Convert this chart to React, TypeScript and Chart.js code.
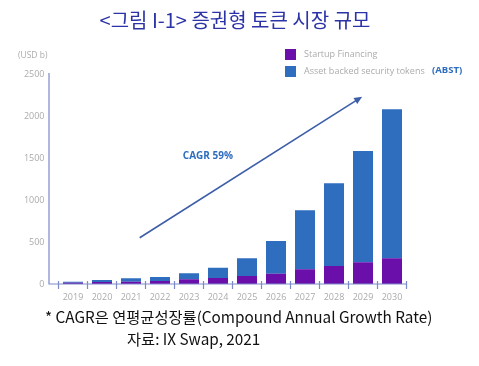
import React, { useEffect, useRef } from "react";
import { Chart, registerables } from "chart.js";

Chart.register(...registerables);

const years = ["2019", "2020", "2021", "2022", "2023", "2024", "2025", "2026", "2027", "2028", "2029", "2030"];
const startupFinancing = [15, 24, 28, 36, 56, 72, 95, 123, 175, 214, 258, 306];
const abst = [12, 24, 40, 47, 71, 122, 211, 389, 702, 985, 1325, 1774];
const yTicks = [0, 500, 1000, 1500, 2000, 2500];
const seriesLabels = ["Startup Financing", "Asset backed security tokens"];
// arrow annotation in data units: [categoryIndex, value]
const arrowStart = [2.3, 550];
const arrowEnd = [9.97, 2230];
const cagrLabel = "CAGR 59%";
const cagrPos = [4.65, 1520];

const PURPLE = "#6b0fab";
const BLUE = "#2f6dbf";
const AXIS = "#7d89c9";
const GRAY = "#ababab";

const decor = {
  id: "decor",
  afterDatasetsDraw(chart: any) {
    const { ctx, chartArea, scales } = chart;
    const xs = scales.x;
    const ys = scales.y;
    const axisX = chartArea.left - 9.5;
    const baseY = ys.getPixelForValue(0);
    ctx.save();
    ctx.strokeStyle = AXIS;
    ctx.lineWidth = 1.2;
    ctx.beginPath();
    ctx.moveTo(axisX, ys.getPixelForValue(2500) - 1);
    ctx.lineTo(axisX, baseY);
    ctx.lineTo(chartArea.right, baseY);
    ctx.stroke();
    const half = (xs.getPixelForValue(1) - xs.getPixelForValue(0)) / 2;
    for (let i = 0; i <= years.length; i++) {
      const px = xs.getPixelForValue(0) - half + i * half * 2;
      ctx.beginPath();
      ctx.moveTo(px, baseY - 3);
      ctx.lineTo(px, baseY + 5);
      ctx.stroke();
    }
    const x1 = xs.getPixelForValue(arrowStart[0]);
    const y1 = ys.getPixelForValue(arrowStart[1]);
    const x2 = xs.getPixelForValue(arrowEnd[0]);
    const y2 = ys.getPixelForValue(arrowEnd[1]);
    ctx.strokeStyle = "#3d5ea8";
    ctx.fillStyle = "#3d5ea8";
    ctx.lineWidth = 1.6;
    const ang = Math.atan2(y2 - y1, x2 - x1);
    ctx.beginPath();
    ctx.moveTo(x1, y1);
    ctx.lineTo(x2 - 5 * Math.cos(ang), y2 - 5 * Math.sin(ang));
    ctx.stroke();
    ctx.beginPath();
    ctx.moveTo(x2, y2);
    ctx.lineTo(x2 - 8 * Math.cos(ang) + 3.5 * Math.sin(ang), y2 - 8 * Math.sin(ang) - 3.5 * Math.cos(ang));
    ctx.lineTo(x2 - 8 * Math.cos(ang) - 3.5 * Math.sin(ang), y2 - 8 * Math.sin(ang) + 3.5 * Math.cos(ang));
    ctx.closePath();
    ctx.fill();
    ctx.fillStyle = "#2f6dbf";
    ctx.font = "bold 10px 'Open Sans'";
    ctx.textAlign = "center";
    ctx.textBaseline = "middle";
    ctx.fillText(cagrLabel, xs.getPixelForValue(cagrPos[0]), ys.getPixelForValue(cagrPos[1]));
    ctx.fillStyle = GRAY;
    ctx.font = "8.5px 'Open Sans'";
    ctx.textAlign = "left";
    ctx.fillText("(USD b)", 18, 56);
    const colors = [PURPLE, BLUE];
    const lx = 285;
    const ly = [49, 66];
    for (let i = 0; i < 2; i++) {
      ctx.fillStyle = colors[i];
      ctx.fillRect(lx, ly[i], 11, 11);
      ctx.fillStyle = GRAY;
      ctx.font = "9px 'Open Sans'";
      ctx.textAlign = "left";
      ctx.fillText(seriesLabels[i], lx + 19, ly[i] + 5.5);
    }
    ctx.fillStyle = "#2f6dbf";
    ctx.font = "bold 9.5px 'Open Sans'";
    ctx.fillText("(ABST)", 432, ly[1] + 4.5);
    ctx.restore();
  },
};

export default function App() {
  const ref = useRef<HTMLCanvasElement>(null);
  useEffect(() => {
    const chart = new Chart(ref.current!, {
      type: "bar",
      data: {
        labels: years,
        datasets: [
          { label: seriesLabels[0], data: startupFinancing, backgroundColor: PURPLE, stack: "s" },
          { label: seriesLabels[1], data: abst, backgroundColor: BLUE, stack: "s" },
        ],
      },
      options: {
        responsive: false,
        animation: false,
        layout: { padding: { left: 8.5, right: 72.5, top: 74, bottom: 0 } },
        plugins: { legend: { display: false }, tooltip: { enabled: false }, title: { display: false } },
        datasets: { bar: { categoryPercentage: 1, barPercentage: 0.69 } } as any,
        scales: {
          x: {
            stacked: true,
            grid: { display: false, drawTicks: false },
            border: { display: false },
            ticks: { color: GRAY, font: { family: "'Open Sans'", size: 9 }, padding: 8, maxRotation: 0 },
            afterFit: (s: any) => { s.height = 82; },
          },
          y: {
            stacked: true,
            min: 0,
            max: 2500,
            afterBuildTicks: (s: any) => { s.ticks = yTicks.map((v) => ({ value: v })); },
            grid: { display: false, drawTicks: false },
            border: { display: false },
            ticks: { color: GRAY, font: { family: "'Open Sans'", size: 9 }, padding: 14, callback: (v: any) => String(v) },
            afterFit: (s: any) => { s.width = 50; },
          },
        },
      },
      plugins: [decor],
    });
    return () => chart.destroy();
  }, []);
  return (
    <div style={{ position: "absolute", left: 0, top: 0, width: 479, height: 366, background: "#fff" }}>
      <canvas ref={ref} width={479} height={366} style={{ position: "absolute", left: 0, top: 0 }} />
      <div style={{ position: "absolute", left: 0, width: 470, top: 6, textAlign: "center", fontFamily: "'Noto Sans CJK KR'", fontSize: 20, color: "#2b33a6", lineHeight: "28px", whiteSpace: "nowrap" }}>
        &lt;그림 I-1&gt; 증권형 토큰 시장 규모
      </div>
      <div style={{ position: "absolute", left: 45, top: 305, fontFamily: "'Noto Sans CJK KR'", fontSize: 15.3, color: "#111", lineHeight: "22px", whiteSpace: "nowrap" }}>
        * CAGR은 연평균성장률(Compound Annual Growth Rate)
      </div>
      <div style={{ position: "absolute", left: 127, top: 327, fontFamily: "'Noto Sans CJK KR'", fontSize: 15.3, color: "#111", lineHeight: "22px", whiteSpace: "nowrap" }}>
        자료: IX Swap, 2021
      </div>
    </div>
  );
}
